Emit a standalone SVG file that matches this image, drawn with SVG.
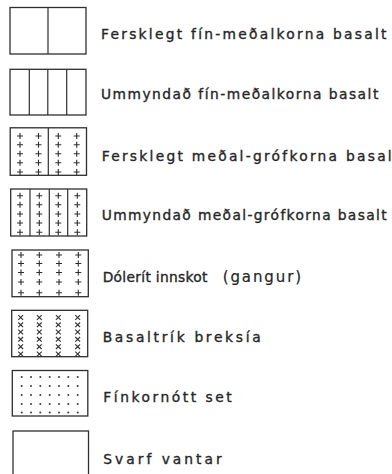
<svg xmlns="http://www.w3.org/2000/svg" xmlns:xlink="http://www.w3.org/1999/xlink" width="392" height="474" viewBox="0 0 392 474">
  <style>
    .box { fill: none; stroke: #2e2e2e; stroke-width: 1.3; }
    .div { stroke: #2e2e2e; stroke-width: 1.2; }
    .mark { fill: none; stroke: #2e2e2e; stroke-width: 1.1; }
    .dot { fill: #3a3a3a; }
    .lbl { font-family: "DejaVu Sans", "Liberation Sans", sans-serif; font-size: 13.8px; fill: #262626; stroke: #262626; stroke-width: 0.35; }
  </style>
  <defs>
    <path id="plus" class="mark" d="M-3,0H3M0,-3V3"/>
    <path id="cross" class="mark" d="M-2.4,-2.3L2.4,2.3M-2.4,2.3L2.4,-2.3"/>
    <circle id="pt" class="dot" r="1"/>
  </defs>
  <rect width="392" height="474" fill="#ffffff"/>

  <!-- fresh fine-medium grained basalt -->
  <g id="fersk-fin">
    <rect class="box" x="10" y="7.5" width="76" height="46.5"/>
    <line class="div" x1="48" y1="7.5" x2="48" y2="54"/>
    <text class="lbl" x="101" y="39" textLength="285.5" lengthAdjust="spacing">Fersklegt fín-meðalkorna basalt</text>
  </g>

  <!-- altered fine-medium grained basalt -->
  <g id="ummynd-fin">
    <rect class="box" x="10" y="69.3" width="76" height="45.7"/>
    <line class="div" x1="29.3" y1="69.3" x2="29.3" y2="115"/>
    <line class="div" x1="47.8" y1="69.3" x2="47.8" y2="115"/>
    <line class="div" x1="66.7" y1="69.3" x2="66.7" y2="115"/>
    <text class="lbl" x="101" y="99.3" textLength="277.3" lengthAdjust="spacing">Ummyndað fín-meðalkorna basalt</text>
  </g>

  <!-- fresh medium-coarse grained basalt -->
  <g id="fersk-grof">
    <rect class="box" x="10.2" y="127.8" width="76.3" height="47.5"/>
    <line class="div" x1="48.3" y1="127.8" x2="48.3" y2="175.3"/>
    <g>
      <use xlink:href="#plus" x="20" y="136"/><use xlink:href="#plus" x="38.5" y="136"/><use xlink:href="#plus" x="58.3" y="136"/><use xlink:href="#plus" x="76.7" y="136"/>
      <use xlink:href="#plus" x="20" y="144.7"/><use xlink:href="#plus" x="38.5" y="144.7"/><use xlink:href="#plus" x="58.3" y="144.7"/><use xlink:href="#plus" x="76.7" y="144.7"/>
      <use xlink:href="#plus" x="20" y="153.7"/><use xlink:href="#plus" x="38.5" y="153.7"/><use xlink:href="#plus" x="58.3" y="153.7"/><use xlink:href="#plus" x="76.7" y="153.7"/>
      <use xlink:href="#plus" x="20" y="162.7"/><use xlink:href="#plus" x="38.5" y="162.7"/><use xlink:href="#plus" x="58.3" y="162.7"/><use xlink:href="#plus" x="76.7" y="162.7"/>
      <use xlink:href="#plus" x="20" y="172"/><use xlink:href="#plus" x="38.5" y="172"/><use xlink:href="#plus" x="58.3" y="172"/><use xlink:href="#plus" x="76.7" y="172"/>
    </g>
    <text class="lbl" x="101.7" y="160.5" textLength="290" lengthAdjust="spacing">Fersklegt meðal-grófkorna basal</text>
  </g>

  <!-- altered medium-coarse grained basalt -->
  <g id="ummynd-grof">
    <rect class="box" x="10.7" y="189" width="76" height="47"/>
    <line class="div" x1="30" y1="189" x2="30" y2="236"/>
    <line class="div" x1="49.3" y1="189" x2="49.3" y2="236"/>
    <line class="div" x1="67.7" y1="189" x2="67.7" y2="236"/>
    <g>
      <use xlink:href="#plus" x="20" y="195.7"/><use xlink:href="#plus" x="39.3" y="195.7"/><use xlink:href="#plus" x="58.3" y="195.7"/><use xlink:href="#plus" x="77.3" y="195.7"/>
      <use xlink:href="#plus" x="20" y="204.7"/><use xlink:href="#plus" x="39.3" y="204.7"/><use xlink:href="#plus" x="58.3" y="204.7"/><use xlink:href="#plus" x="77.3" y="204.7"/>
      <use xlink:href="#plus" x="20" y="214"/><use xlink:href="#plus" x="39.3" y="214"/><use xlink:href="#plus" x="58.3" y="214"/><use xlink:href="#plus" x="77.3" y="214"/>
      <use xlink:href="#plus" x="20" y="223"/><use xlink:href="#plus" x="39.3" y="223"/><use xlink:href="#plus" x="58.3" y="223"/><use xlink:href="#plus" x="77.3" y="223"/>
      <use xlink:href="#plus" x="20" y="232.3"/><use xlink:href="#plus" x="39.3" y="232.3"/><use xlink:href="#plus" x="58.3" y="232.3"/><use xlink:href="#plus" x="77.3" y="232.3"/>
    </g>
    <text class="lbl" x="101.7" y="220" textLength="285" lengthAdjust="spacing">Ummyndað meðal-grófkorna basalt</text>
  </g>

  <!-- dolerite intrusion (dyke) -->
  <g id="dolerit">
    <rect class="box" x="12" y="250" width="76.3" height="46.7"/>
    <g>
      <use xlink:href="#plus" x="21" y="255"/><use xlink:href="#plus" x="39.3" y="255"/><use xlink:href="#plus" x="59" y="255"/><use xlink:href="#plus" x="78.3" y="255"/>
      <use xlink:href="#plus" x="21" y="263.5"/><use xlink:href="#plus" x="39.3" y="263.5"/><use xlink:href="#plus" x="59" y="263.5"/><use xlink:href="#plus" x="78.3" y="263.5"/>
      <use xlink:href="#plus" x="21" y="272.5"/><use xlink:href="#plus" x="39.3" y="272.5"/><use xlink:href="#plus" x="59" y="272.5"/><use xlink:href="#plus" x="78.3" y="272.5"/>
      <use xlink:href="#plus" x="21" y="282"/><use xlink:href="#plus" x="39.3" y="282"/><use xlink:href="#plus" x="59" y="282"/><use xlink:href="#plus" x="78.3" y="282"/>
      <use xlink:href="#plus" x="21" y="292.7"/><use xlink:href="#plus" x="39.3" y="292.7"/><use xlink:href="#plus" x="59" y="292.7"/><use xlink:href="#plus" x="78.3" y="292.7"/>
    </g>
    <text class="lbl" x="102.7" y="281.5"><tspan style="letter-spacing:0.3px">Dólerít innskot</tspan><tspan x="222.7" style="font-size:15px;letter-spacing:1.9px;stroke-width:0.2">(gangur)</tspan></text>
  </g>

  <!-- basaltic breccia -->
  <g id="breksia">
    <rect class="box" x="11.7" y="310.3" width="76" height="46.4"/>
    <g>
      <use xlink:href="#cross" x="20.7" y="317.5"/><use xlink:href="#cross" x="39.3" y="317.5"/><use xlink:href="#cross" x="58.3" y="317.5"/><use xlink:href="#cross" x="77.7" y="317.5"/>
      <use xlink:href="#cross" x="20.7" y="324.8"/><use xlink:href="#cross" x="39.3" y="324.8"/><use xlink:href="#cross" x="58.3" y="324.8"/><use xlink:href="#cross" x="77.7" y="324.8"/>
      <use xlink:href="#cross" x="20.7" y="332"/><use xlink:href="#cross" x="39.3" y="332"/><use xlink:href="#cross" x="58.3" y="332"/><use xlink:href="#cross" x="77.7" y="332"/>
      <use xlink:href="#cross" x="20.7" y="339.3"/><use xlink:href="#cross" x="39.3" y="339.3"/><use xlink:href="#cross" x="58.3" y="339.3"/><use xlink:href="#cross" x="77.7" y="339.3"/>
      <use xlink:href="#cross" x="20.7" y="346.7"/><use xlink:href="#cross" x="39.3" y="346.7"/><use xlink:href="#cross" x="58.3" y="346.7"/><use xlink:href="#cross" x="77.7" y="346.7"/>
      <use xlink:href="#cross" x="20.7" y="354"/><use xlink:href="#cross" x="39.3" y="354"/><use xlink:href="#cross" x="58.3" y="354"/><use xlink:href="#cross" x="77.7" y="354"/>
    </g>
    <text class="lbl" x="102.7" y="342" textLength="158" lengthAdjust="spacing">Basaltrík breksía</text>
  </g>

  <!-- fine-grained sediment -->
  <g id="set">
    <rect class="box" x="12.3" y="370.5" width="75.5" height="45.5"/>
    <g>
      <use xlink:href="#pt" x="21.7" y="377"/><use xlink:href="#pt" x="31" y="377"/><use xlink:href="#pt" x="40.3" y="377"/><use xlink:href="#pt" x="49.7" y="377"/><use xlink:href="#pt" x="59" y="377"/><use xlink:href="#pt" x="68.3" y="377"/><use xlink:href="#pt" x="77.7" y="377"/>
      <use xlink:href="#pt" x="21.7" y="386"/><use xlink:href="#pt" x="31" y="386"/><use xlink:href="#pt" x="40.3" y="386"/><use xlink:href="#pt" x="49.7" y="386"/><use xlink:href="#pt" x="59" y="386"/><use xlink:href="#pt" x="68.3" y="386"/><use xlink:href="#pt" x="77.7" y="386"/>
      <use xlink:href="#pt" x="21.7" y="395"/><use xlink:href="#pt" x="31" y="395"/><use xlink:href="#pt" x="40.3" y="395"/><use xlink:href="#pt" x="49.7" y="395"/><use xlink:href="#pt" x="59" y="395"/><use xlink:href="#pt" x="68.3" y="395"/><use xlink:href="#pt" x="77.7" y="395"/>
      <use xlink:href="#pt" x="21.7" y="404"/><use xlink:href="#pt" x="31" y="404"/><use xlink:href="#pt" x="40.3" y="404"/><use xlink:href="#pt" x="49.7" y="404"/><use xlink:href="#pt" x="59" y="404"/><use xlink:href="#pt" x="68.3" y="404"/><use xlink:href="#pt" x="77.7" y="404"/>
      <use xlink:href="#pt" x="21.7" y="412.5"/><use xlink:href="#pt" x="31" y="412.5"/><use xlink:href="#pt" x="40.3" y="412.5"/><use xlink:href="#pt" x="49.7" y="412.5"/><use xlink:href="#pt" x="59" y="412.5"/><use xlink:href="#pt" x="68.3" y="412.5"/><use xlink:href="#pt" x="77.7" y="412.5"/>
    </g>
    <text class="lbl" x="103.3" y="402" textLength="128.4" lengthAdjust="spacing">Fínkornótt set</text>
  </g>

  <!-- no cuttings recovered -->
  <g id="vantar">
    <rect class="box" x="13" y="431" width="75.5" height="46"/>
    <text class="lbl" x="103.3" y="464" textLength="118.4" lengthAdjust="spacing">Svarf vantar</text>
  </g>
</svg>
